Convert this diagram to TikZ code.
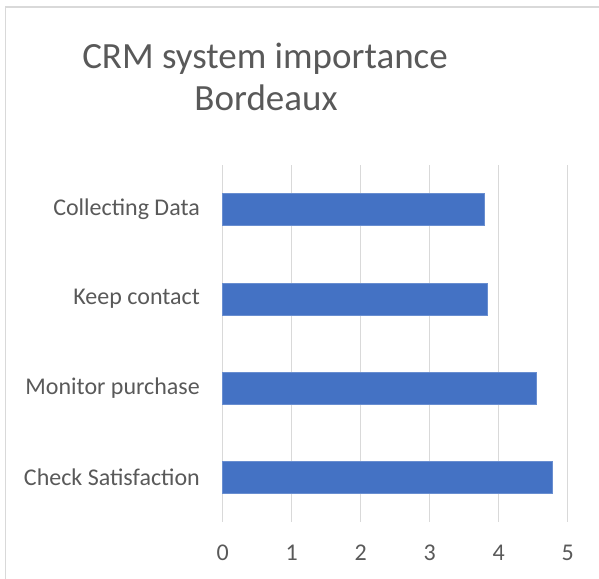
\documentclass[tikz,border=0pt]{standalone}
\usepackage{fontspec}
\setmainfont{Carlito}
\usetikzlibrary{math}
\definecolor{barblue}{HTML}{4472C4}
\definecolor{gridgray}{HTML}{D9D9D9}
\definecolor{textgray}{HTML}{595959}

\tikzset{
  gridline/.style={gridgray, line width=1.5},
  hbar/.style={fill=barblue, draw=barblue!80!white, line width=0.6},
  catlabel/.style={text=textgray, anchor=east, inner sep=0pt, font=\fontsize{24}{28}\selectfont},
  ticklabel/.style={text=textgray, inner sep=0pt, font=\fontsize{24}{28}\selectfont},
  charttitle/.style={text=textgray, anchor=base, inner sep=0pt, font=\fontsize{37}{42}\selectfont}
}

\begin{document}
\begin{tikzpicture}[x=1pt, y=1pt]
\tikzmath{
\xo=222.7;
\u=69;
\ytop=-165;
\ybot=-521.7;
\gap=89.2;
\bh=32;
}
\useasboundingbox (0,0) rectangle (599,-578);

% chart frame
\draw[gridgray, line width=1.5] (5.5,-640) -- (5.5,-7) -- (660,-7);

\node[charttitle] (title1) at (265,-68) {CRM system importance};
\node[charttitle] (title2) at (266,-110) {Bordeaux};

% vertical grid and value axis
\foreach \t in {0,...,5}{
  \draw[gridline] (\xo+\t*\u,\ytop) -- (\xo+\t*\u,\ybot);
  \node[ticklabel] (tick\t) at (\xo+\t*\u,-553) {\t};
}

% bars, top to bottom
\foreach \val/\cat [count=\k] in {3.787/Collecting Data, 3.835/Keep contact, 4.55/Monitor purchase, 4.77/Check Satisfaction}{
  \tikzmath{\yc=\ytop-(\k-0.5)*\gap;}
  \draw[hbar] (\xo,\yc-\bh/2) rectangle (\xo+\val*\u,\yc+\bh/2);
  \node[catlabel] (cat\k) at (200,\yc) {\cat};
}
\end{tikzpicture}
\end{document}
